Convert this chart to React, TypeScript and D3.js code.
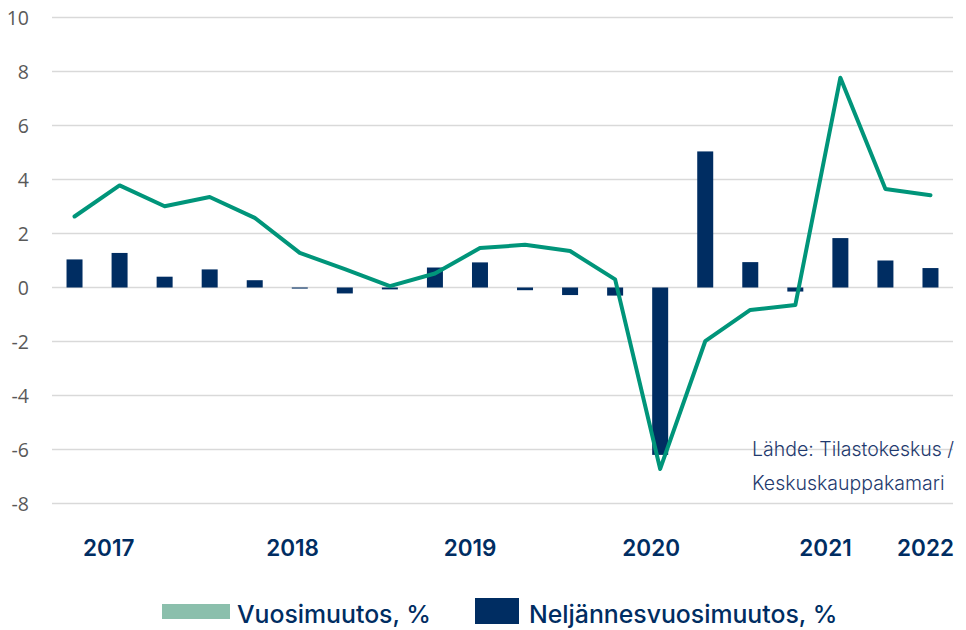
import React from "react";
import * as d3 from "d3";

const quarters = [
  "2017Q1","2017Q2","2017Q3","2017Q4",
  "2018Q1","2018Q2","2018Q3","2018Q4",
  "2019Q1","2019Q2","2019Q3","2019Q4",
  "2020Q1","2020Q2","2020Q3","2020Q4",
  "2021Q1","2021Q2","2021Q3","2021Q4",
];
// Vuosimuutos, % (line)
const annualChange = [2.63, 3.78, 3.01, 3.35, 2.58, 1.28, 0.68, 0.05, 0.52, 1.46, 1.58, 1.35, 0.3, -6.72, -1.99, -0.83, -0.65, 7.77, 3.65, 3.42];
// Neljännesvuosimuutos, % (bars)
const quarterlyChange = [1.04, 1.28, 0.4, 0.67, 0.27, -0.04, -0.22, -0.07, 0.74, 0.93, -0.1, -0.28, -0.3, -6.2, 5.04, 0.94, -0.15, 1.83, 1.0, 0.72];
const yTicks = [-8, -6, -4, -2, 0, 2, 4, 6, 8, 10];
const yearLabels = ["2017", "2018", "2019", "2020", "2021", "2022"];
const yearLabelAt = [0.76, 4.84, 8.78, 12.8, 16.67, 18.89];
const legendLabels = ["Vuosimuutos, %", "Neljännesvuosimuutos, %"];
const sourceLines = ["Lähde: Tilastokeskus /", "Keskuskauppakamari"];

const W = 966, H = 630;
const NAVY = "#002d62";
const GREEN = "#00957a";
const LIGHTGREEN = "#8bbfac";

export default function App() {
  const x = d3.scaleBand<string>().domain(quarters).range([52, 953]).paddingInner(0.645).paddingOuter(0.3225);
  const y = d3.scaleLinear().domain([-8, 10]).range([503.5, 17.5]);
  const step = x.step();
  const cx = (i: number) => (x(quarters[0]) as number) + x.bandwidth() / 2 + i * step;
  const line = d3.line<number>().x((_, i) => cx(i)).y((d) => y(d));

  return (
    <svg width={W} height={H} style={{ position: "absolute", left: 0, top: 0, background: "#fff" }}>
      {yTicks.map((t) => (
        <g key={t}>
          <line x1={52} x2={953} y1={y(t)} y2={y(t)} stroke="#d9d9d9" strokeWidth={1.3} />
          <text x={29} y={y(t)} dy="0.36em" textAnchor="end" fontFamily="'Open Sans', sans-serif" fontSize={19.5} fill="#595959">
            {t}
          </text>
        </g>
      ))}
      {quarterlyChange.map((v, i) => (
        <rect key={i} x={x(quarters[i])} width={x.bandwidth()} y={y(Math.max(0, v))} height={Math.abs(y(v) - y(0))} fill={NAVY} />
      ))}
      <path d={line(annualChange) || ""} fill="none" stroke={GREEN} strokeWidth={4} strokeLinejoin="round" strokeLinecap="round" />
      {yearLabels.map((l, i) => (
        <text key={l} x={cx(yearLabelAt[i])} y={556} textAnchor="middle" fontFamily="Inter, sans-serif" fontWeight={600} fontSize={22.5} fill={NAVY}>
          {l}
        </text>
      ))}
      {sourceLines.map((s, i) => (
        <text key={s} x={752} y={456 + i * 34} fontFamily="Inter, sans-serif" fontWeight={300} fontSize={19.5} fill="#1f3a6e">
          {s}
        </text>
      ))}
      <rect x={162} y={604} width={68} height={15} fill={LIGHTGREEN} />
      <text x={237} y={622.5} fontFamily="Inter, sans-serif" fontWeight={500} fontSize={24.8} fill={NAVY}>{legendLabels[0]}</text>
      <rect x={475} y={598} width={44} height={26} fill={NAVY} />
      <text x={529} y={622.5} fontFamily="Inter, sans-serif" fontWeight={500} fontSize={24.8} fill={NAVY}>{legendLabels[1]}</text>
    </svg>
  );
}
